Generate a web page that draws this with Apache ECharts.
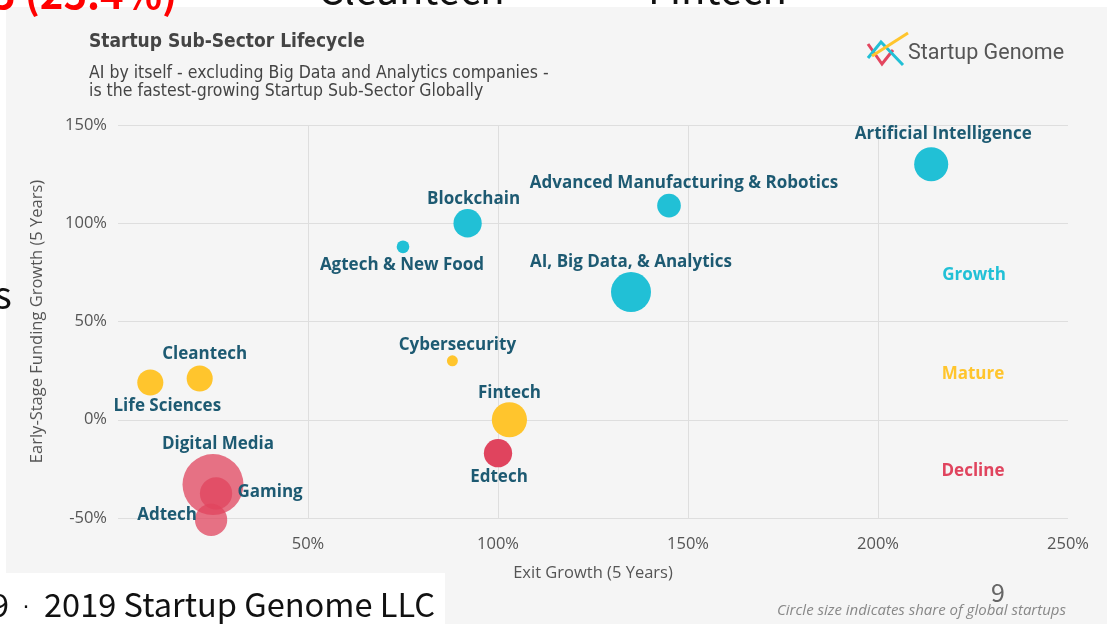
<!DOCTYPE html>
<html>
<head>
<meta charset="utf-8">
<script src="https://cdn.jsdelivr.net/npm/echarts@6/dist/echarts.min.js"></script>
<style>
  html, body { margin: 0; padding: 0; background: #fff; }
  #chart { width: 1107px; height: 624px; }
</style>
</head>
<body>
<div id="chart"></div>
<script>
// sub-sectors
var names = ['Artificial Intelligence', 'Advanced Manufacturing & Robotics', 'Blockchain',
  'Agtech & New Food', 'AI, Big Data, & Analytics', 'Cybersecurity', 'Cleantech',
  'Life Sciences', 'Fintech', 'Edtech', 'Digital Media', 'Gaming', 'Adtech'];
var exitGrowth = [214, 145, 92, 75, 135, 88, 21.5, 8.5, 103, 100, 25, 25.8, 24.5];
var fundingGrowth = [130, 109, 100, 88, 65, 30, 21, 19, 0, -17, -33, -37.5, -51];
// share of global startups (%), drives circle size
var share = [2.9, 1.4, 2.0, 0.4, 4.0, 0.3, 1.7, 1.7, 3.1, 2.0, 9.3, 2.6, 2.6];
var stage = ['Growth', 'Growth', 'Growth', 'Growth', 'Growth', 'Mature', 'Mature',
  'Mature', 'Mature', 'Decline', 'Decline', 'Decline', 'Decline'];
var stages = ['Growth', 'Mature', 'Decline'];
var xTicks = [0, 50, 100, 150, 200, 250];
var yTicks = [-50, 0, 50, 100, 150];

// layout only: label offset from bubble centre
var labelOffset = {
  'Artificial Intelligence': [12, -30],
  'Advanced Manufacturing & Robotics': [15, -22],
  'Blockchain': [6, -24],
  'Agtech & New Food': [-1, 18],
  'AI, Big Data, & Analytics': [0, -30],
  'Cybersecurity': [5, -16],
  'Cleantech': [5, -24],
  'Life Sciences': [17, 24],
  'Fintech': [0, -27],
  'Edtech': [1, 24],
  'Digital Media': [5, -40],
  'Gaming': [54, -1],
  'Adtech': [-44, -5]
};
// the overlapping decline bubbles are see-through
var bubbleAlpha = { 'Digital Media': 0.75, 'Gaming': 0.75, 'Adtech': 0.75 };
var stageColor = { Growth: '#21c0d6', Mature: '#ffc52d', Decline: '#e0445e' };
var labelColor = '#1d5a72';
var FONT = 'Open Sans';

var chart = echarts.init(document.getElementById('chart'), null, { renderer: 'canvas' });

var series = stages.map(function (s) {
  var data = [];
  for (var i = 0; i < names.length; i++) {
    if (stage[i] !== s) continue;
    var a = bubbleAlpha[names[i]] || 1;
    data.push({
      name: names[i],
      value: [exitGrowth[i], fundingGrowth[i], share[i]],
      itemStyle: { color: echarts.color.modifyAlpha(stageColor[s], a) },
      label: { offset: labelOffset[names[i]] }
    });
  }
  return {
    name: s,
    type: 'scatter',
    data: data,
    clip: false,
    symbolSize: function (v) { return 20 * Math.sqrt(v[2]); },
    itemStyle: { color: stageColor[s], opacity: 1 },
    label: {
      show: true,
      position: 'inside',
      formatter: '{b}',
      fontFamily: FONT,
      fontWeight: 'bold',
      fontSize: 17,
      color: labelColor
    },
    emphasis: { disabled: true }
  };
});

var option = {
  backgroundColor: '#f5f5f5',
  animation: false,
  title: {
    text: 'Startup Sub-Sector Lifecycle',
    subtext: 'AI by itself - excluding Big Data and Analytics companies -\nis the fastest-growing Startup Sub-Sector Globally',
    left: 84,
    top: 28,
    itemGap: 12,
    textStyle: { fontFamily: 'Liberation Sans Narrow, DejaVu Sans Condensed, Roboto', fontSize: 19, fontWeight: 'bold', color: '#444' },
    subtextStyle: { fontFamily: 'Liberation Sans Narrow, DejaVu Sans Condensed, Roboto', fontSize: 17.5, lineHeight: 18.5, color: '#444' }
  },
  grid: { left: 118, right: 39, top: 125, bottom: 106, outerBoundsMode: 'none' },
  xAxis: {
    type: 'value',
    min: xTicks[0], max: xTicks[xTicks.length - 1], interval: 50,
    name: 'Exit Growth (5 Years)',
    nameLocation: 'middle',
    nameGap: 47,
    nameTextStyle: { fontFamily: FONT, fontSize: 16.5, color: '#555' },
    axisLine: { show: false },
    axisTick: { show: false },
    axisLabel: { formatter: '{value}%', showMinLabel: false, margin: 18, fontFamily: FONT, fontSize: 16.5, color: '#555' },
    splitLine: { show: true, showMinLine: false, showMaxLine: false, lineStyle: { color: '#dedede', width: 1 } }
  },
  yAxis: {
    type: 'value',
    min: yTicks[0], max: yTicks[yTicks.length - 1], interval: 50,
    name: 'Early-Stage Funding Growth (5 Years)',
    nameLocation: 'middle',
    nameGap: 72,
    nameTextStyle: { fontFamily: FONT, fontSize: 16.5, color: '#555' },
    axisLine: { show: false },
    axisTick: { show: false },
    axisLabel: { formatter: '{value}%', margin: 11, fontFamily: FONT, fontSize: 16.5, color: '#555' },
    splitLine: { show: true, lineStyle: { color: '#dedede', width: 1 } }
  },
  graphic: [
    // slide edges outside the chart panel
    { type: 'rect', shape: { x: 0, y: 0, width: 1107, height: 7 }, style: { fill: '#fff' }, z: 1 },
    { type: 'rect', shape: { x: 0, y: 0, width: 6, height: 624 }, style: { fill: '#fff' }, z: 1 },
    { type: 'rect', shape: { x: 0, y: 573, width: 445, height: 51 }, style: { fill: '#fff' }, z: 1 },
    // cut-off slide text
    { type: 'text', x: -8, y: -26, z: 5, style: { text: '5 (25.4%)', fontFamily: 'Noto Sans CJK TC', fontSize: 40, fontWeight: 'bold', fill: '#ff0000' } },
    { type: 'text', x: 318, y: -31, z: 5, style: { text: 'Cleantech', fontFamily: 'Noto Sans CJK TC', fontSize: 40, fill: '#111' } },
    { type: 'text', x: 648, y: -31, z: 5, style: { text: 'Fintech', fontFamily: 'Noto Sans CJK TC', fontSize: 40, fill: '#111' } },
    { type: 'text', x: -6, y: 276, z: 5, style: { text: 's', fontFamily: 'Noto Sans CJK TC', fontSize: 38, fill: '#111' } },
    // slide footer
    { type: 'text', x: 9, y: 588, z: 5, style: { text: '9', fontFamily: 'Noto Sans CJK TC', fontSize: 32.6, fill: '#111', textAlign: 'right' } },
    { type: 'text', x: 26, y: 608, z: 5, style: { text: '\u00b7', fontFamily: 'DejaVu Sans', fontSize: 22, fill: '#111', textAlign: 'center', textVerticalAlign: 'middle' } },
    { type: 'text', x: 44, y: 588, z: 5, style: { text: '2019 Startup Genome LLC', fontFamily: 'Noto Sans CJK TC', fontSize: 32.6, fill: '#111' } },
    { type: 'text', x: 998, y: 580, z: 5, style: { text: '9', fontFamily: 'Noto Sans CJK TC', fontSize: 25, fill: '#666', textAlign: 'center' } },
    { type: 'text', x: 1066, y: 611, z: 5, style: { text: 'Circle size indicates share of global startups', fontFamily: FONT, fontStyle: 'italic', fontSize: 15, fill: '#888', textAlign: 'right', textVerticalAlign: 'middle' } },
    // logo
    { type: 'polyline', z: 5, shape: { points: [[868, 44], [882, 64], [893, 50]] }, style: { stroke: '#e3465f', lineWidth: 3, fill: null } },
    { type: 'polyline', z: 5, shape: { points: [[868, 58], [881, 42], [903, 65]] }, style: { stroke: '#21c0d6', lineWidth: 3, fill: null } },
    { type: 'line', z: 5, shape: { x1: 872, y1: 56, x2: 908, y2: 33 }, style: { stroke: '#ffc52d', lineWidth: 3 } },
    { type: 'text', x: 908, y: 54, z: 5, style: { text: 'Startup Genome', fontFamily: 'Roboto', fontSize: 21.5, fill: '#555', textVerticalAlign: 'middle' } },
    // quadrant names
    { type: 'text', x: 974, y: 275, z: 5, style: { text: 'Growth', fontFamily: FONT, fontWeight: 'bold', fontSize: 17, fill: stageColor.Growth, textAlign: 'center', textVerticalAlign: 'middle' } },
    { type: 'text', x: 973, y: 374, z: 5, style: { text: 'Mature', fontFamily: FONT, fontWeight: 'bold', fontSize: 17, fill: stageColor.Mature, textAlign: 'center', textVerticalAlign: 'middle' } },
    { type: 'text', x: 973, y: 471, z: 5, style: { text: 'Decline', fontFamily: FONT, fontWeight: 'bold', fontSize: 17, fill: stageColor.Decline, textAlign: 'center', textVerticalAlign: 'middle' } }
  ],
  series: series
};

chart.setOption(option);
</script>
</body>
</html>
